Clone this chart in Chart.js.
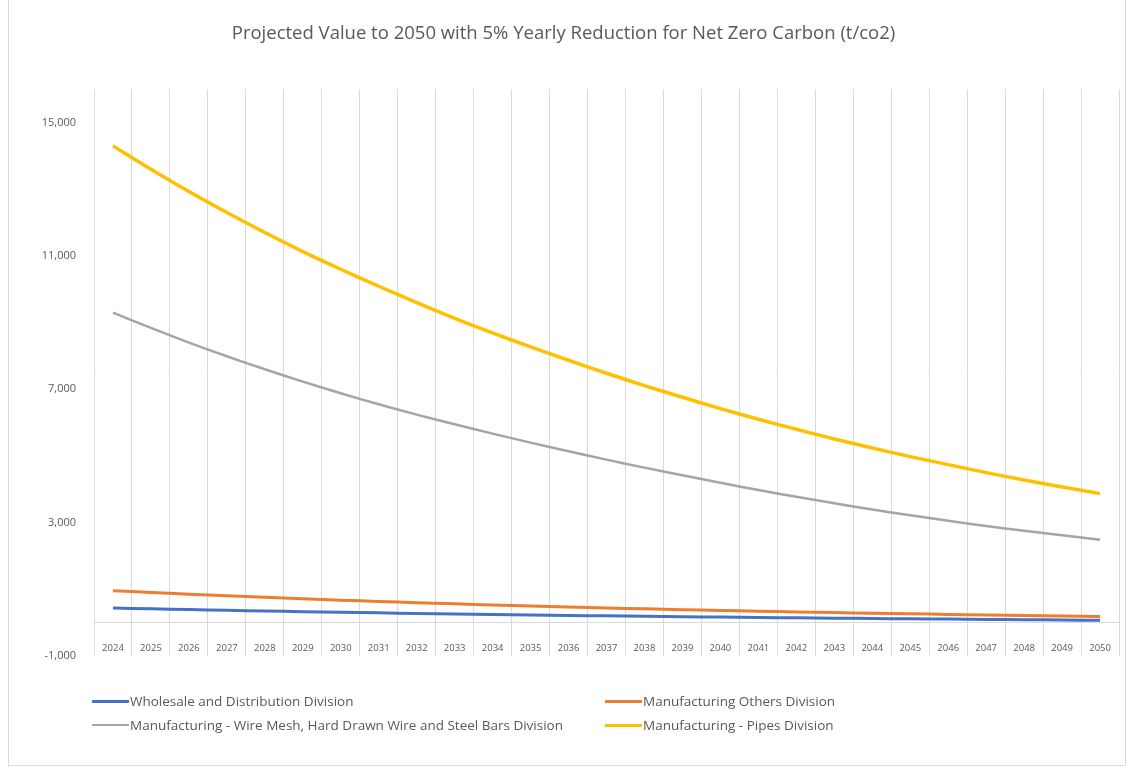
<!DOCTYPE html>
<html>
<head>
<meta charset="utf-8">
<title>Projected Value to 2050</title>
<script src="https://cdn.jsdelivr.net/npm/chart.js@4.4.1/dist/chart.umd.min.js"></script>
<style>
    body { margin: 0; background: #fff; font-family: "Open Sans", sans-serif; }
    #wrap { position: relative; width: 1131px; height: 772px; overflow: hidden; }
    #frame { position: absolute; left: 8px; top: -1px; width: 1116px; height: 765px; border: 1px solid #d9d9d9; pointer-events: none; }
    .legend-item { position: absolute; display: flex; align-items: center; font-size: 13.5px; color: #595959; white-space: nowrap; line-height: 16px; }
    .legend-item .swatch { display: inline-block; width: 37px; height: 3px; margin-right: 1px; }
</style>
</head>
<body>
<div id="wrap">
    <canvas id="carbonChart" width="1131" height="772"></canvas>
    <div id="frame"></div>
    <div id="legend"></div>
</div>
<script>
// Données
const years = ['2024', '2025', '2026', '2027', '2028', '2029', '2030', '2031', '2032', '2033', '2034', '2035', '2036', '2037',
    '2038', '2039', '2040', '2041', '2042', '2043', '2044', '2045', '2046', '2047', '2048', '2049', '2050'];

const wholesale = [440, 415, 392, 370, 350, 330, 312, 294, 277, 261, 246, 231, 217, 204,
    191, 179, 167, 156, 145, 135, 125, 116, 107, 98, 89, 80, 72];

const mfgOthers = [960, 905, 855, 805, 760, 715, 675, 635, 600, 565, 530, 500, 470, 440,
    415, 390, 365, 343, 322, 302, 283, 265, 248, 232, 215, 198, 182];

const mfgWire = [9300, 8840, 8400, 7990, 7600, 7230, 6880, 6550, 6240, 5950, 5670, 5400, 5140, 4890,
    4650, 4420, 4195, 3980, 3775, 3580, 3395, 3220, 3055, 2900, 2755, 2620, 2490];

const mfgPipes = [14300, 13600, 12930, 12300, 11700, 11130, 10600, 10090, 9600, 9130, 8690, 8270, 7870, 7480,
    7110, 6760, 6420, 6100, 5800, 5510, 5240, 4980, 4740, 4500, 4280, 4070, 3870];

const yTicks = [-1000, 3000, 7000, 11000, 15000];

const seriesNames = [
    'Wholesale and Distribution Division',
    'Manufacturing Others Division',
    'Manufacturing - Wire Mesh, Hard Drawn Wire and Steel Bars Division',
    'Manufacturing - Pipes Division'
];
const seriesColors = ['#4472C4', '#ED7D31', '#A5A5A5', '#FFC000'];
const seriesWidths = [3, 3, 2.5, 3.5];
const seriesData = [wholesale, mfgOthers, mfgWire, mfgPipes];

const textColor = '#595959';
const gridColor = '#d9d9d9';

// Jeux de données
const datasets = seriesData.map((data, i) => ({
    label: seriesNames[i],
    data: data,
    borderColor: seriesColors[i],
    backgroundColor: seriesColors[i],
    borderWidth: seriesWidths[i],
    pointRadius: 0,
    tension: 0.3,
    fill: false
}));

const ctx = document.getElementById('carbonChart').getContext('2d');

const carbonChart = new Chart(ctx, {
    type: 'line',
    data: { labels: years, datasets: datasets },
    options: {
        responsive: false,
        animation: false,
        layout: {
            padding: { left: 0, right: 4, top: 0, bottom: 116 }
        },
        plugins: {
            legend: { display: false },
            tooltip: { enabled: false },
            title: {
                display: true,
                text: 'Projected Value to 2050 with 5% Yearly Reduction for Net Zero Carbon (t/co2)',
                color: textColor,
                font: { family: '"Open Sans", sans-serif', size: 18.5, weight: 'normal' },
                padding: { top: 23, bottom: 44 }
            }
        },
        scales: {
            x: {
                type: 'category',
                position: { y: 0 },
                offset: true,
                grid: {
                    offset: true,
                    color: gridColor,
                    lineWidth: 1,
                    drawTicks: false
                },
                border: { display: true, color: gridColor, width: 1 },
                ticks: {
                    color: textColor,
                    font: { family: '"Open Sans", sans-serif', size: 9.5 },
                    maxRotation: 0,
                    autoSkip: false,
                    padding: 20
                }
            },
            y: {
                min: -1000,
                max: 16000,
                grid: { display: false },
                border: { display: false },
                afterBuildTicks: (scale) => {
                    scale.ticks = yTicks.map(v => ({ value: v }));
                },
                afterFit: (scale) => {
                    scale.width = 94;
                },
                ticks: {
                    color: textColor,
                    font: { family: '"Open Sans", sans-serif', size: 11 },
                    padding: 10,
                    callback: (value) => value.toLocaleString('en-US')
                }
            }
        }
    }
});

// Légende personnalisée (deux colonnes comme dans Excel)
const legendPos = [
    { left: 92, top: 693 },
    { left: 605, top: 693 },
    { left: 92, top: 717 },
    { left: 605, top: 717 }
];
const legendEl = document.getElementById('legend');
seriesNames.forEach((name, i) => {
    const item = document.createElement('div');
    item.className = 'legend-item';
    item.style.left = legendPos[i].left + 'px';
    item.style.top = legendPos[i].top + 'px';
    const sw = document.createElement('span');
    sw.className = 'swatch';
    sw.style.background = seriesColors[i];
    sw.style.height = (i === 2 ? 2 : 3) + 'px';
    const txt = document.createElement('span');
    txt.textContent = name;
    item.appendChild(sw);
    item.appendChild(txt);
    legendEl.appendChild(item);
});
</script>
</body>
</html>
